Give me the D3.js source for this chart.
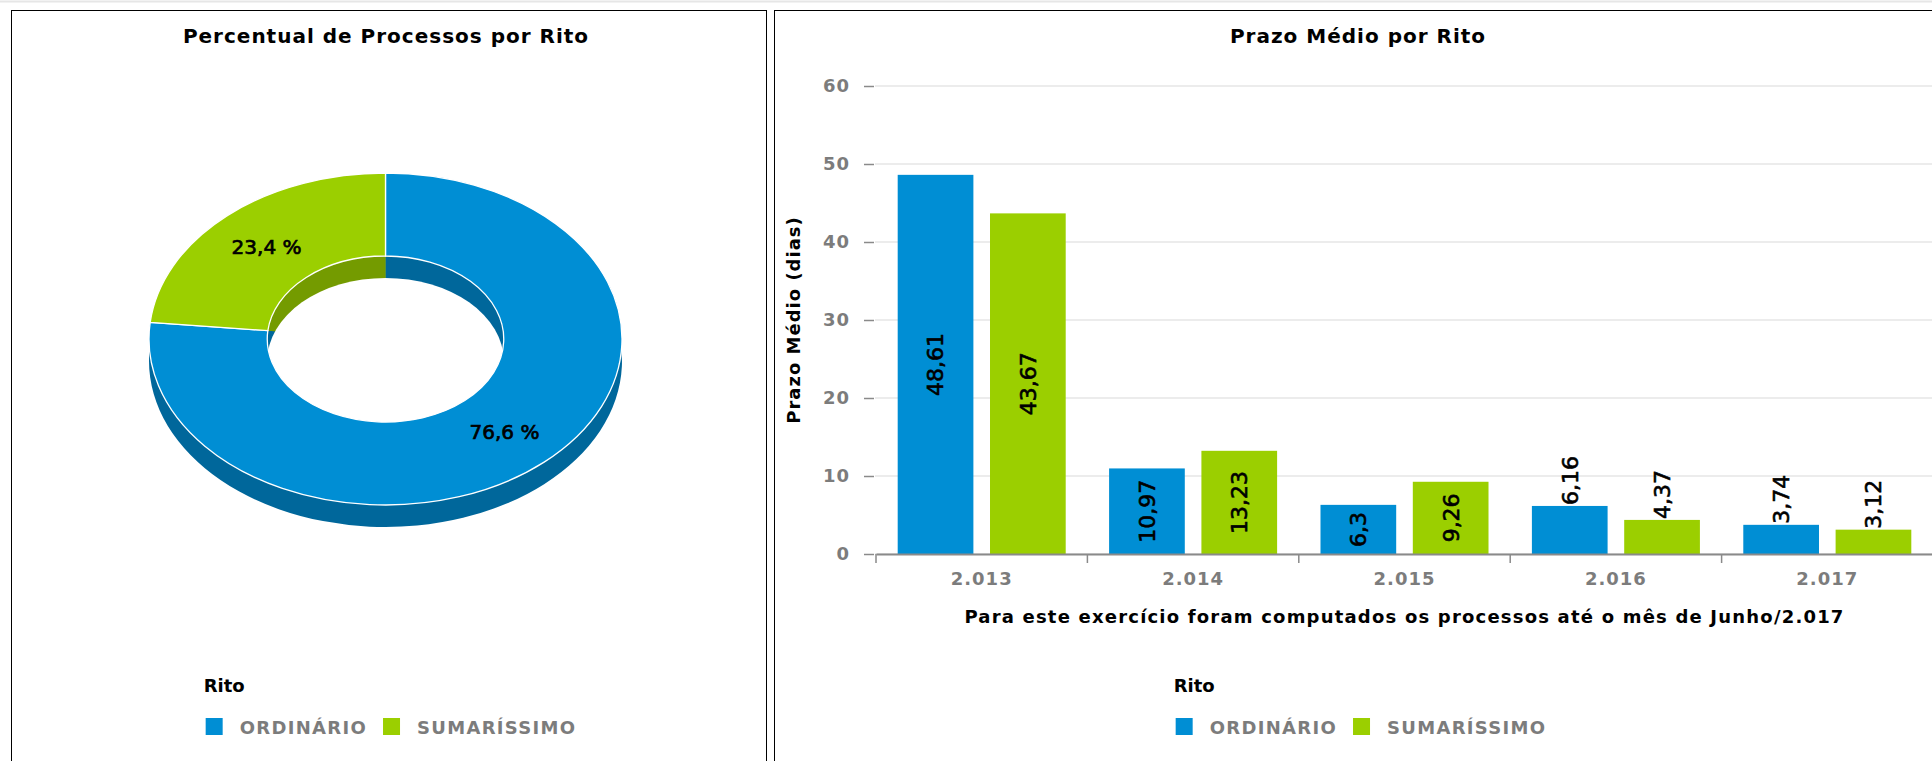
<!DOCTYPE html>
<html>
<head>
<meta charset="utf-8">
<script src="https://cdnjs.cloudflare.com/ajax/libs/d3/7.8.5/d3.min.js"></script>
<style>
  body { margin: 0; background: #fff; }
  text { font-family: 'DejaVu Sans', Verdana, sans-serif; }
</style>
</head>
<body>
<script>
var width = 1932,
    height = 761;

// dados
var ritos = ['ORDINÁRIO', 'SUMARÍSSIMO'];
var percentuais = [76.6, 23.4];
var anos = ['2.013', '2.014', '2.015', '2.016', '2.017'];
var prazoOrdinario = [48.61, 10.97, 6.3, 6.16, 3.74];
var prazoSumarissimo = [43.67, 13.23, 9.26, 4.37, 3.12];
var yTicks = [0, 10, 20, 30, 40, 50, 60];

var cores = ['#008ed4', '#9bcf00'];
var coresEscuras = ['#00679b', '#749b00'];

function virgula(v) { return String(v).replace('.', ','); }

var svg = d3.select('body').append('svg')
    .attr('width', width)
    .attr('height', height);

// linha cinza no topo
svg.append('line')
    .attr('x1', 0).attr('x2', width)
    .attr('y1', 1.5).attr('y2', 1.5)
    .attr('stroke', '#e6e6e6')
    .attr('stroke-width', 2);

// moldura dos dois painéis
svg.append('rect')
    .attr('x', 11.5).attr('y', 10.5)
    .attr('width', 755).attr('height', 800)
    .attr('fill', 'none').attr('stroke', '#000');
svg.append('rect')
    .attr('x', 774.5).attr('y', 10.5)
    .attr('width', 1167).attr('height', 800)
    .attr('fill', 'none').attr('stroke', '#000');

// ---------- painel esquerdo: rosca 3D ----------
svg.append('text')
    .attr('x', 386).attr('y', 43)
    .attr('text-anchor', 'middle')
    .style('font-size', '20px').style('font-weight', 'bold')
    .style('letter-spacing', '1px')
    .text('Percentual de Processos por Rito');

var rx = 236.5, ry = 166, prof = 22;
var k = ry / rx;

var pie = d3.pie().sort(null).value(function (d) { return d; });
var fatias = pie(percentuais);

var arcTopo = d3.arc().innerRadius(rx * 0.5).outerRadius(rx);
var arcCheio = d3.arc().innerRadius(0).outerRadius(rx);
var arcFuro = d3.arc().innerRadius(0).outerRadius(rx * 0.5);

var pizza = svg.append('g').attr('transform', 'translate(385.5,339)');

function camada(dy) {
    return pizza.append('g').attr('transform', 'translate(0,' + dy + ') scale(1,' + k + ')');
}

// lateral de fora
camada(prof).selectAll('path')
    .data(fatias).enter().append('path')
    .attr('d', arcCheio)
    .attr('fill', function (d, i) { return coresEscuras[i]; });

// parede do furo
camada(0).selectAll('path')
    .data(fatias).enter().append('path')
    .attr('d', arcFuro)
    .attr('fill', function (d, i) { return coresEscuras[i]; });

// fundo do furo
camada(prof).append('ellipse')
    .attr('rx', rx * 0.5).attr('ry', rx * 0.5)
    .attr('fill', '#fff');

// face de cima
camada(0).selectAll('path')
    .data(fatias).enter().append('path')
    .attr('d', arcTopo)
    .attr('fill', function (d, i) { return cores[i]; })
    .attr('stroke', '#fff')
    .attr('stroke-width', 1.3)
    .attr('vector-effect', 'non-scaling-stroke');

pizza.selectAll('text.rotulo')
    .data(fatias).enter().append('text')
    .attr('class', 'rotulo')
    .attr('x', function (d) { return arcTopo.centroid(d)[0]; })
    .attr('y', function (d) { return arcTopo.centroid(d)[1] * k; })
    .attr('dy', '0.36em')
    .attr('text-anchor', 'middle')
    .style('font-size', '20px')
    .attr('stroke', '#000').attr('stroke-width', 0.7)
    .text(function (d) { return virgula(d.data) + ' %'; });

// ---------- painel direito: barras ----------
svg.append('text')
    .attr('x', 1358).attr('y', 43)
    .attr('text-anchor', 'middle')
    .style('font-size', '20px').style('font-weight', 'bold')
    .style('letter-spacing', '1px')
    .text('Prazo Médio por Rito');

var x0 = d3.scaleBand().domain(anos).range([876, 1933]);
var x1 = d3.scaleBand().domain(ritos)
    .range([0, x0.bandwidth()])
    .paddingInner(0.18).paddingOuter(0.235);
var y = d3.scaleLinear().domain([0, 60]).range([554, 86]);

svg.append('g').selectAll('line')
    .data(yTicks).enter().append('line')
    .attr('x1', 875).attr('x2', width)
    .attr('y1', function (d) { return y(d); })
    .attr('y2', function (d) { return y(d); })
    .attr('stroke', '#e6e6e6')
    .attr('stroke-width', 1.5);

var eixoY = svg.append('g')
    .attr('transform', 'translate(874,0)')
    .call(d3.axisLeft(y).tickValues(yTicks).tickSize(10).tickPadding(14));
eixoY.select('.domain').remove();
eixoY.selectAll('line').attr('stroke', '#8a8a8a').attr('stroke-width', 1.5);
eixoY.selectAll('text')
    .attr('fill', '#7c7c7c')
    .style('font-family', "'DejaVu Sans', Verdana, sans-serif")
    .style('font-size', '18px').style('font-weight', 'bold')
    .style('letter-spacing', '1px');

var series = [prazoOrdinario, prazoSumarissimo];
var barras = [];
series.forEach(function (vals, s) {
    vals.forEach(function (v, i) {
        barras.push({ ano: anos[i], rito: ritos[s], serie: s, valor: v });
    });
});

svg.append('g').selectAll('rect')
    .data(barras).enter().append('rect')
    .attr('x', function (d) { return x0(d.ano) + x1(d.rito); })
    .attr('y', function (d) { return y(d.valor); })
    .attr('width', x1.bandwidth())
    .attr('height', function (d) { return y(0) - y(d.valor); })
    .attr('fill', function (d) { return cores[d.serie]; });

var eixoX = svg.append('g')
    .attr('transform', 'translate(0,' + y(0) + ')')
    .call(d3.axisBottom(x0).tickSize(0).tickPadding(18));
eixoX.select('.domain').attr('stroke', '#8a8a8a').attr('stroke-width', 2);
eixoX.selectAll('text')
    .attr('fill', '#7c7c7c')
    .style('font-family', "'DejaVu Sans', Verdana, sans-serif")
    .style('font-size', '18px').style('font-weight', 'bold')
    .style('letter-spacing', '1px');

// tracinhos entre os anos
svg.append('g').selectAll('line')
    .data(anos).enter().append('line')
    .attr('x1', function (d) { return x0(d); })
    .attr('x2', function (d) { return x0(d); })
    .attr('y1', y(0)).attr('y2', y(0) + 9)
    .attr('stroke', '#8a8a8a').attr('stroke-width', 1.5);

// rótulos das barras
var rotulos = svg.append('g').selectAll('text')
    .data(barras).enter().append('text')
    .style('font-size', '22px')
    .attr('stroke', '#000').attr('stroke-width', 0.6)
    .attr('dy', '0.36em')
    .text(function (d) { return virgula(d.valor); });

rotulos.each(function (d) {
    var t = d3.select(this);
    var cx = x0(d.ano) + x1(d.rito) + x1.bandwidth() / 2;
    var alt = y(0) - y(d.valor);
    var comp = this.getComputedTextLength();
    if (comp + 4 < alt) {
        t.attr('text-anchor', 'middle')
         .attr('transform', 'translate(' + cx + ',' + (y(d.valor) + alt / 2) + ') rotate(-90)');
    } else {
        t.attr('text-anchor', 'start')
         .attr('transform', 'translate(' + cx + ',' + (y(d.valor) - 1) + ') rotate(-90)');
    }
});

// títulos dos eixos
svg.append('text')
    .attr('transform', 'translate(794,' + ((y(0) + y(60)) / 2) + ') rotate(-90)')
    .attr('text-anchor', 'middle')
    .attr('dy', '0.36em')
    .style('font-size', '18px').style('font-weight', 'bold')
    .style('letter-spacing', '1px')
    .text('Prazo Médio (dias)');

svg.append('text')
    .attr('x', (x0.range()[0] + x0.range()[1]) / 2)
    .attr('y', 623)
    .attr('text-anchor', 'middle')
    .style('font-size', '18px').style('font-weight', 'bold')
    .style('letter-spacing', '1.2px')
    .text('Para este exercício foram computados os processos até o mês de Junho/2.017');

// ---------- legendas ----------
function legenda(centro) {
    var g = svg.append('g');
    var itens = g.selectAll('g')
        .data(ritos).enter().append('g');
    itens.append('rect')
        .attr('width', 17).attr('height', 17)
        .attr('y', 718)
        .attr('fill', function (d, i) { return cores[i]; });
    itens.append('text')
        .attr('x', 34).attr('y', 734)
        .attr('fill', '#7c7c7c')
        .style('font-size', '18px').style('font-weight', 'bold')
        .style('letter-spacing', '1.3px')
        .text(function (d) { return d; });
    var pos = 0;
    itens.each(function () {
        var w = d3.select(this).select('text').node().getComputedTextLength();
        d3.select(this).attr('transform', 'translate(' + pos + ',0)');
        pos += 34 + w + 16;
    });
    var total = pos - 16;
    var inicio = centro - total / 2;
    g.attr('transform', 'translate(' + inicio + ',0)');
    g.append('text')
        .attr('x', -2).attr('y', 692)
        .style('font-size', '18px').style('font-weight', 'bold')
        .text('Rito');
}

legenda(391);
legenda(1361);
</script>
</body>
</html>
